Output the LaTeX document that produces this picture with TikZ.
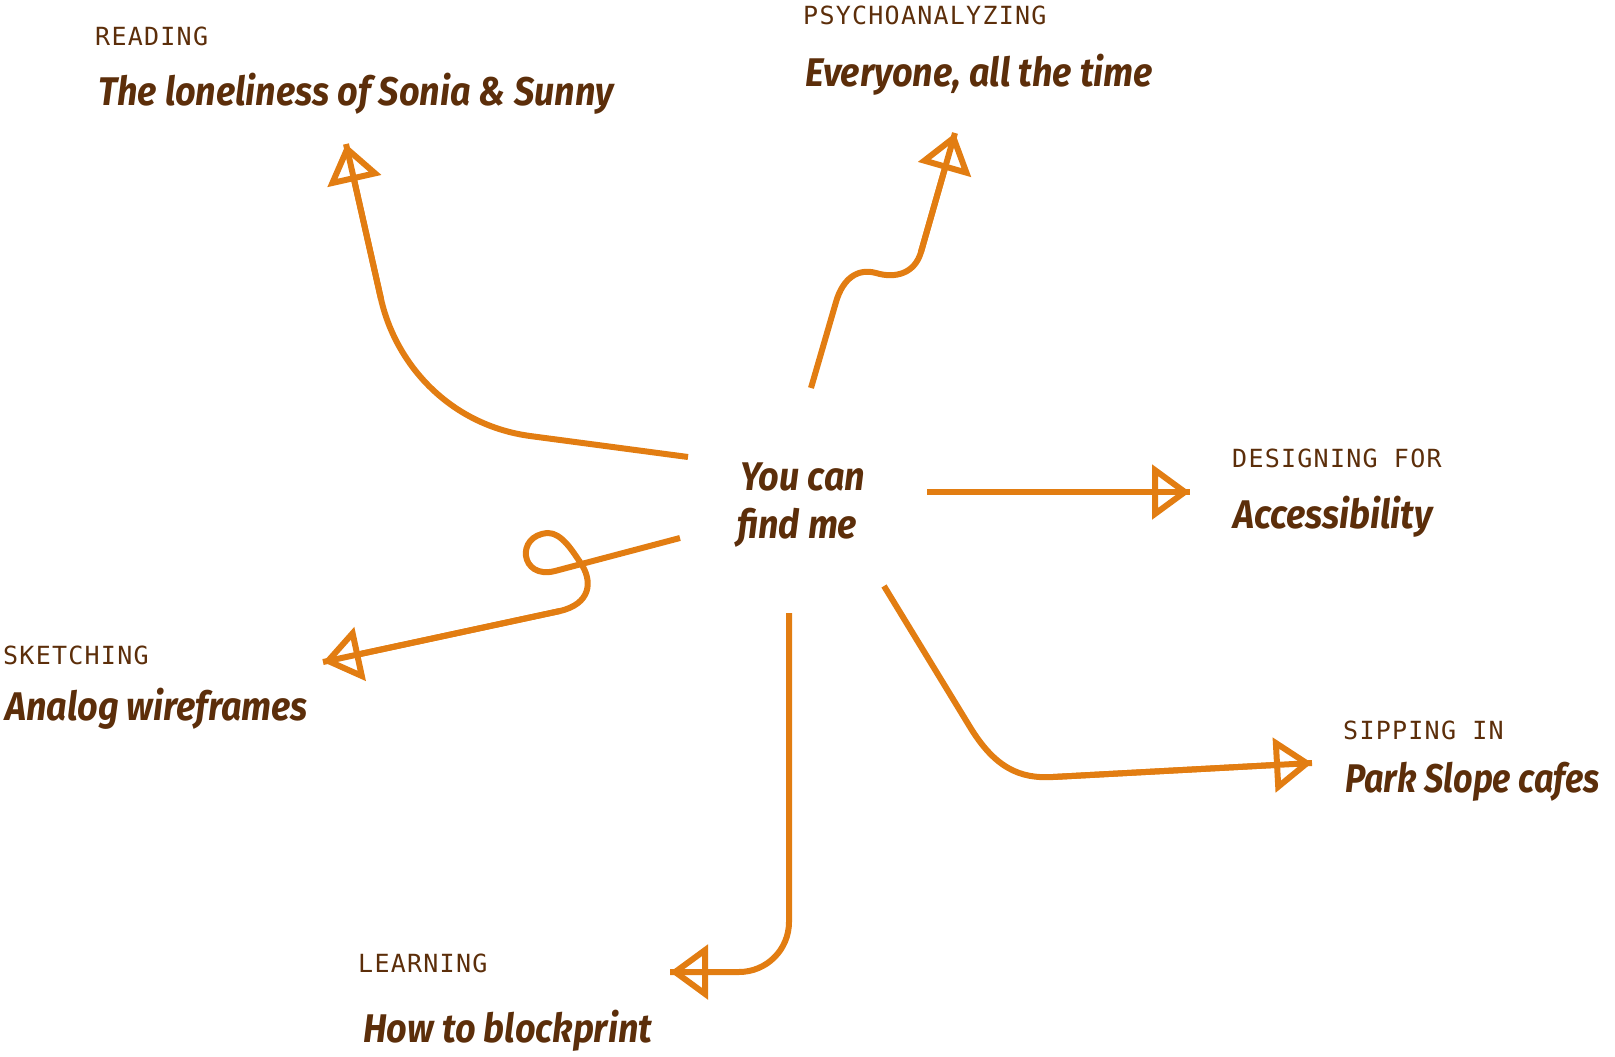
\documentclass[tikz,border=0pt]{standalone}
\usepackage{fontspec}
\usetikzlibrary{arrows.meta}
\newfontfamily\monof[LetterSpace=5]{DejaVu Sans Mono}
\newfontfamily\handf[FakeStretch=0.9]{Fira Sans}
\definecolor{ink}{HTML}{5C2E0A}
\definecolor{acc}{HTML}{E27D12}
\begin{document}
\begin{tikzpicture}[x=1pt,y=-1pt,
  cat/.style={anchor=base west, inner sep=0pt, text=ink, font=\monof\fontsize{25}{30}\selectfont},
  hand/.style={anchor=base west, inner sep=0pt, text=ink, font=\handf\bfseries\itshape\fontsize{40}{48}\selectfont},
  conn/.style={draw=acc, line width=6pt},
  tipped/.style={conn, -{Triangle[open, length=38pt, width=54pt]}}
]
\useasboundingbox (0,0) rectangle (1615,1057);

% texts
\node[cat]  (c1) at (95,46)   {READING};
\node[hand] (t1) at (98,106)  {The loneliness of Sonia \& Sunny};
\node[cat]  (c2) at (803,25)  {PSYCHOANALYZING};
\node[hand] (t2) at (805,86)  {Everyone, all the time};
\node[cat]  (c3) at (1232,467) {DESIGNING FOR};
\node[hand] (t3) at (1233,528) {Accessibility};
\node[cat]  (c4) at (1343,739) {SIPPING IN};
\node[hand] (t4) at (1345,792) {\scalebox{0.95}[1]{Park Slope cafes}};
\node[cat]  (c5) at (3,664)   {SKETCHING};
\node[hand] (t5) at (5,720)   {Analog wireframes};
\node[cat]  (c6) at (358,972) {LEARNING};
\node[hand] (t6) at (363,1042) {How to blockprint};
\node[hand] (me1) at (740,490) {You can};
\node[hand] (me2) at (737,538) {find me};

% connector end points
\coordinate (s1) at (688,457);  \coordinate (e1) at (346,144);
\coordinate (s2) at (811,388);  \coordinate (e2) at (955,133);
\coordinate (s3) at (927,492);  \coordinate (e3) at (1190,492);
\coordinate (s4) at (884,586);  \coordinate (e4) at (1312,763);
\coordinate (s5) at (789,613);  \coordinate (e5) at (670,972);
\coordinate (s6) at (680,538);  \coordinate (e6) at (323,662);

% reading
\draw[conn] (s1) -- (530,436) .. controls (450,425) and (396,365) .. (381,299) -- (e1);
\draw[tipped] (381,299) -- (e1);
% psychoanalyzing
\draw[conn] (s2) -- (836,302) .. controls (843,278) and (858,268) .. (876,273)
  .. controls (896,279) and (915,273) .. (921,252) -- (e2);
\draw[tipped] (921,252) -- (e2);
% designing
\draw[conn] (s3) -- (e3);
\draw[tipped] (s3) -- (e3);
% sipping
\draw[conn] (s4) -- (970,727) .. controls (995,768) and (1020,779) .. (1053,777) -- (e4);
\draw[tipped] (1053,777) -- (e4);
% learning
\draw[conn, rounded corners=50pt] (s5) -- (789,972) -- (e5);
\draw[tipped] (740,972) -- (e5);
% sketching
\draw[conn] (s6) -- (555,571) .. controls (520,580) and (515,535) .. (548,533)
  .. controls (562,533) and (573,552) .. (580,562)
  .. controls (594,582) and (590,604) .. (560,611) -- (e6);
\draw[tipped] (560,611) -- (e6);
\end{tikzpicture}
\end{document}
